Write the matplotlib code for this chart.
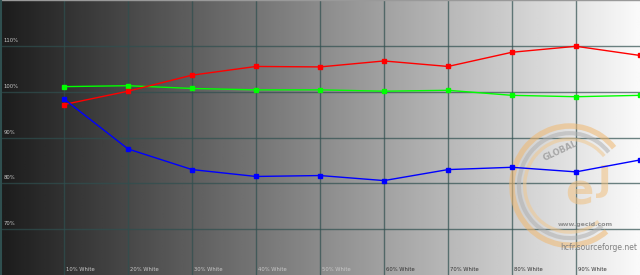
import matplotlib
matplotlib.use("Agg")
import matplotlib.pyplot as plt
from matplotlib.patches import Arc
import numpy as np

# ---- data ----
levels = [10, 20, 30, 40, 50, 60, 70, 80, 90, 100]
tick_labels = ["10% White", "20% White", "30% White", "40% White", "50% White",
               "60% White", "70% White", "80% White", "90% White"]
red = [97.2, 100.1, 103.6, 105.5, 105.4, 106.7, 105.5, 108.6, 109.9, 107.9]
green = [101.1, 101.3, 100.7, 100.4, 100.4, 100.1, 100.3, 99.2, 98.9, 99.2]
blue = [98.4, 87.5, 83.0, 81.5, 81.7, 80.6, 83.0, 83.5, 82.5, 85.1]
y_levels = [70, 80, 90, 100, 110]

GRID = "#2f4f4f"

fig = plt.figure(figsize=(6.4, 2.75), dpi=100)
ax = fig.add_axes([0, 0, 1, 1])
ax.set_xlim(0, 100)
ax.set_ylim(60, 120)
ax.axis("off")

# grey background gradient, dark on the left to white on the right
grad = np.linspace(0.11, 0.98, 256).reshape(1, -1)
ax.imshow(grad, cmap="gray", vmin=0, vmax=1, aspect="auto",
          extent=[0, 100, 60, 120], zorder=0)

# grid
for xv in levels[:-1]:
    ax.axvline(xv, color=GRID, alpha=0.7, lw=1, zorder=1)
for yv in y_levels:
    ax.axhline(yv, color=GRID, alpha=0.7, lw=1, zorder=1)
ax.axhline(119.9, color="#999999", lw=1, zorder=1)
ax.axvline(0.1, color=GRID, lw=1.5, zorder=1)

# watermark
cx, cy = 89.0, 79.5
for r, col, lw in [(1.0, "#f0b870", 4), (0.88, "#b0b0b0", 3), (0.78, "#f0c890", 2.5)]:
    ax.add_patch(Arc((cx, cy), 18 * r, 26 * r, theta1=50, theta2=300,
                     color=col, lw=lw, alpha=0.55, zorder=2))
ax.text(cx + 1.5, cy - 1.5, "e", fontsize=30, fontweight="bold", color="#f0c080",
        alpha=0.55, ha="center", va="center", zorder=2)
ax.text(cx + 5.5, cy + 1, "J", fontsize=26, fontweight="bold", color="#f0c080",
        alpha=0.55, ha="center", va="center", zorder=2)
ax.text(cx - 1.5, cy + 7.5, "GLOBAL", fontsize=6, fontweight="bold", color="#909090",
        rotation=25, alpha=0.7, ha="center", va="center", zorder=2)
ax.text(cx + 2.5, cy - 8.5, "www.gecid.com", fontsize=4.5, fontweight="bold",
        color="#909090", ha="center", va="center", zorder=2)
ax.text(99.5, cy - 13.5, "hcfr.sourceforge.net", fontsize=5.5, color="#808080",
        ha="right", va="center", zorder=2)

# series
for vals, col in [(green, "#00ff00"), (red, "#ff0000"), (blue, "#0000ff")]:
    ax.plot(levels, vals, color=col, lw=1, marker="s", markersize=3,
            zorder=4, clip_on=False)

# labels
for xv, lab in zip(levels, tick_labels):
    col = "#c8c8c8" if xv <= 50 else "#333333"
    ax.text(xv + 0.3, 61.2, lab, fontsize=3.8, color=col, ha="left",
            va="center", zorder=5)
for yv in y_levels:
    ax.text(0.6, yv + 1.2, f"{yv}%", fontsize=3.8, color="#c8c8c8",
            ha="left", va="center", zorder=5)

fig.savefig("out.png", dpi=100)
